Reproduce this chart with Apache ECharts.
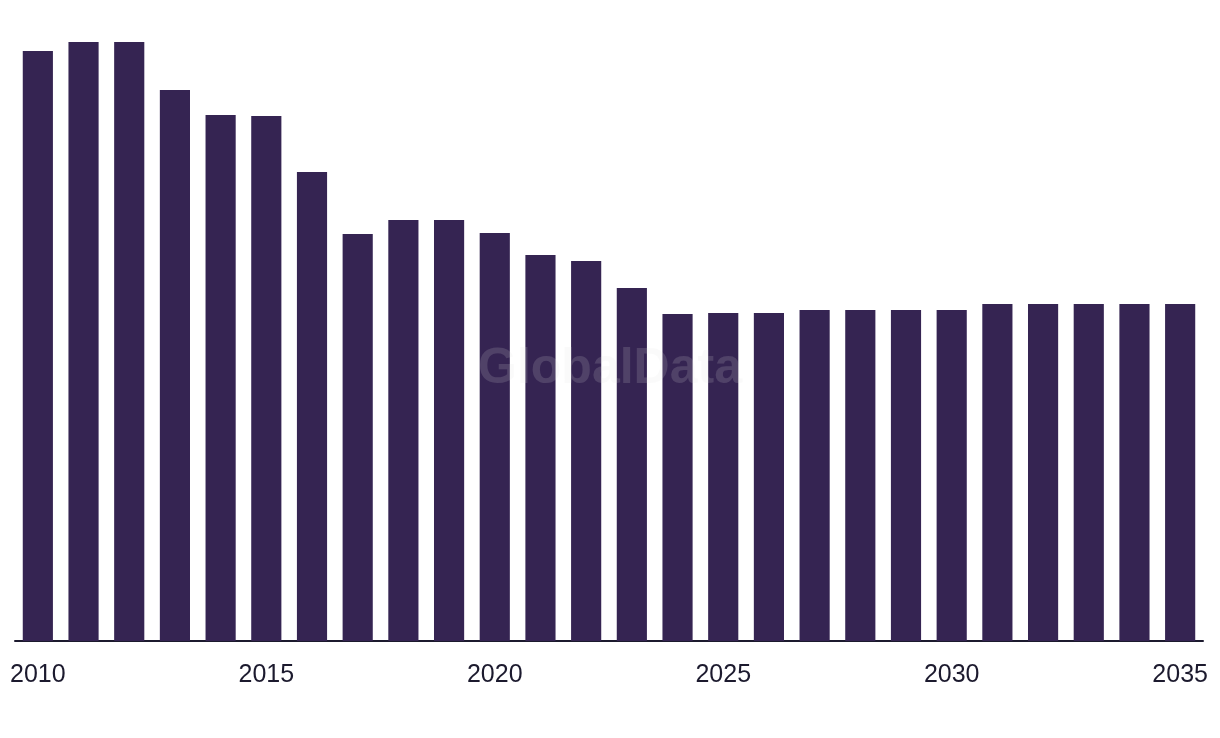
<!DOCTYPE html>
<html>
<head>
<meta charset="utf-8">
<script src="https://cdn.jsdelivr.net/npm/echarts@6/dist/echarts.min.js"></script>
<style>
html,body{margin:0;padding:0;background:#fff;}
#chart{width:1220px;height:738px;}
</style>
</head>
<body>
<div id="chart"></div>
<script>
const years = ['2010','2011','2012','2013','2014','2015','2016','2017','2018','2019','2020','2021','2022','2023','2024','2025','2026','2027','2028','2029','2030','2031','2032','2033','2034','2035'];
const values = [59.0, 59.9, 59.9, 55.1, 52.6, 52.5, 46.9, 40.7, 42.1, 42.1, 40.8, 38.6, 38.0, 35.3, 32.7, 32.8, 32.8, 33.1, 33.1, 33.1, 33.1, 33.7, 33.7, 33.7, 33.7, 33.7];

const chart = echarts.init(document.getElementById('chart'));
chart.setOption({
  animation: false,
  grid: {left: 15, right: 17, top: 42, bottom: 97, containLabel: false},
  xAxis: {
    type: 'category',
    data: years,
    boundaryGap: true,
    axisLine: {show: true, lineStyle: {color: '#1c1a2e', width: 2}},
    axisTick: {show: false},
    axisLabel: {
      interval: 4,
      color: '#1c1a2e',
      fontFamily: 'Liberation Sans, Arial, sans-serif',
      fontSize: 25,
      margin: 22
    }
  },
  yAxis: {
    type: 'value',
    min: 0,
    max: 59.9,
    show: false,
    splitLine: {show: false}
  },
  series: [{
    type: 'bar',
    data: values,
    barWidth: '66%',
    itemStyle: {color: '#352452'}
  }],
  graphic: [{
    type: 'text',
    left: 'center',
    top: 344,
    z: 100,
    style: {
      text: 'GlobalData',
      font: 'bold 50px "Liberation Sans", Arial, sans-serif',
      fill: 'rgba(225,225,225,0.16)'
    }
  }]
});
</script>
</body>
</html>
